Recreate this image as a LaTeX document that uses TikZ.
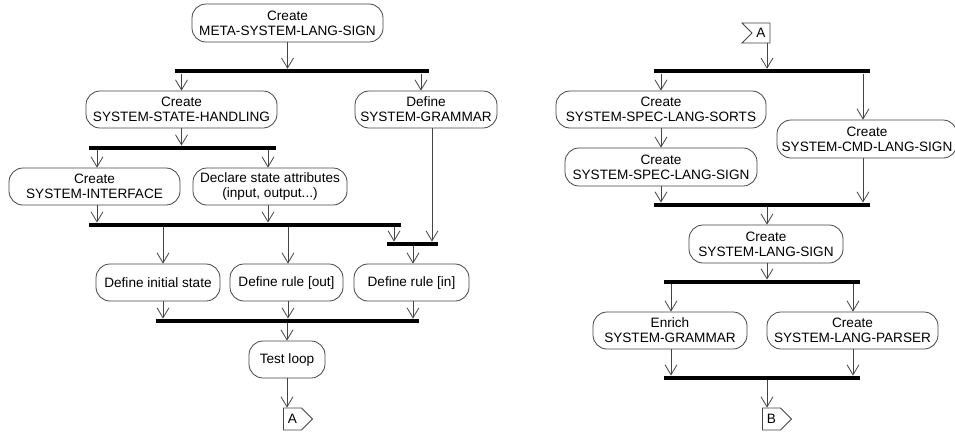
\documentclass[tikz,border=0pt]{standalone}
\usepackage{fontspec}
\setmainfont{Liberation Sans}
\usetikzlibrary{arrows.meta,shapes.symbols}
\definecolor{ln}{HTML}{444444}
\tikzset{
  act/.style={draw=ln, line width=0.8pt, rounded corners=14pt, align=center, inner sep=0pt,
    minimum height=37pt, font=\fontsize{13.6}{15}\selectfont},
  bar/.style={fill=black, inner sep=0pt, minimum height=4.5pt},
  arr/.style={draw=ln, line width=0.8pt, -{Straight Barb[length=10pt,width=12pt,line width=0.8pt]}},
  plain/.style={draw=ln, line width=0.8pt},
  sendsig/.style={signal, signal to=east, draw=ln, line width=0.8pt, inner sep=0pt,
    minimum width=29pt, minimum height=22pt, font=\fontsize{13.6}{15}\selectfont},
  recvsig/.style={signal, signal from=west, signal to=nowhere, draw=ln, line width=0.8pt, inner sep=0pt,
    minimum width=28pt, minimum height=20pt, font=\fontsize{13.6}{15}\selectfont}
}
\begin{document}
\begin{tikzpicture}[x=1pt,y=-1pt]
\useasboundingbox (0,0) rectangle (955,432);
% ---------- left diagram ----------
\node[act, minimum width=191pt, minimum height=38pt] (meta) at (287.5,23) {Create\\META-SYSTEM-LANG-SIGN};
\node[bar, minimum width=254pt] (bar1) at (302,71.2) {};
\node[act, minimum width=191pt] (ssh) at (181.5,109.5) {Create\\SYSTEM-STATE-HANDLING};
\node[act, minimum width=142pt] (dsg) at (426,109.5) {Define\\SYSTEM-GRAMMAR};
\node[bar, minimum width=187pt] (bar2) at (182.5,148) {};
\node[act, minimum width=171pt] (si) at (94.5,186.5) {Create\\SYSTEM-INTERFACE};
\node[act, minimum width=154pt] (dsa) at (270,186.5) {Declare state attributes\\(input, output...)};
\node[bar, minimum width=312pt] (bar3) at (245,225) {};
\node[bar, minimum width=51pt] (bar4) at (412.5,244) {};
\node[act, minimum width=124pt] (dis) at (158,282.5) {Define initial state};
\node[act, minimum width=113pt] (dro) at (286.5,282.5) {Define rule [out]};
\node[act, minimum width=115pt] (dri) at (411.5,282.5) {Define rule [in]};
\node[bar, minimum width=263pt] (bar5) at (287.5,321) {};
\node[act, minimum width=76pt] (tl) at (287,359.5) {Test loop};
\node[sendsig] (sendA) at (292.5,419) {A};

\coordinate (dsgi) at ([xshift=-5]dsg.north);
\coordinate (dsgo) at ([xshift=6]dsg.south);
\coordinate (sii) at ([xshift=2.5]si.north);
\coordinate (sio) at ([xshift=2.5]si.south);
\coordinate (dsai) at ([xshift=-2]dsa.north);
\coordinate (dsao) at ([xshift=-2]dsa.south);
\coordinate (b4l) at ([xshift=-18.5]bar4.north);
\coordinate (disi) at ([xshift=5]dis.north);
\coordinate (diso) at ([xshift=5]dis.south);
\coordinate (droi) at ([xshift=1.5]dro.north);
\coordinate (droo) at ([xshift=1.5]dro.south);
\coordinate (drii) at ([xshift=1.5]dri.north);
\coordinate (drio) at ([xshift=1.5]dri.south);

\draw[arr] (meta.south) -- (meta.south |- bar1.north);
\draw[arr] (ssh.north |- bar1.south) -- (ssh.north);
\draw[arr] (dsgi |- bar1.south) -- (dsgi);
\draw[arr] (ssh.south) -- (ssh.south |- bar2.north);
\draw[arr] (sii |- bar2.south) -- (sii);
\draw[arr] (dsai |- bar2.south) -- (dsai);
\draw[arr] (sio) -- (sio |- bar3.north);
\draw[arr] (dsao) -- (dsao |- bar3.north);
\draw[arr] (b4l |- bar3.south) -- (b4l);
\draw[arr] (dsgo) -- (dsgo |- bar4.north);
\draw[arr] (disi |- bar3.south) -- (disi);
\draw[arr] (droi |- bar3.south) -- (droi);
\draw[arr] (drii |- bar4.south) -- (drii);
\draw[arr] (diso) -- (diso |- bar5.north);
\draw[arr] (droo) -- (droo |- bar5.north);
\draw[arr] (drio) -- (drio |- bar5.north);
\draw[arr] (tl.north |- bar5.south) -- (tl.north);
\draw[arr] (tl.south) -- (tl.south |- sendA.north);

% ---------- right diagram ----------
\node[recvsig] (recvA) at (761,33) {A};
\node[bar, minimum width=216pt] (barR1) at (762,71.2) {};
\node[act, minimum width=210pt] (ssls) at (661,109.5) {Create\\SYSTEM-SPEC-LANG-SORTS};
\node[act, minimum width=180pt, minimum height=38pt] (cmd) at (867,139) {Create\\SYSTEM-CMD-LANG-SIGN};
\node[act, minimum width=192pt, minimum height=38pt] (sslsign) at (661,167) {Create\\SYSTEM-SPEC-LANG-SIGN};
\node[bar, minimum width=216pt] (barR2) at (762,205) {};
\node[act, minimum width=154pt, minimum height=38pt] (sls) at (766,244) {Create\\SYSTEM-LANG-SIGN};
\node[bar, minimum width=196pt] (barR3) at (762,282) {};
\node[act, minimum width=154pt] (esg) at (670,330.5) {Enrich\\SYSTEM-GRAMMAR};
\node[act, minimum width=171pt] (slp) at (852.5,330.5) {Create\\SYSTEM-LANG-PARSER};
\node[bar, minimum width=196pt] (barR4) at (762,378) {};
\node[sendsig] (sendB) at (771.5,419) {B};

\coordinate (rAo) at ([xshift=6]recvA.south);
\coordinate (cmdi) at ([xshift=-4]cmd.north);
\coordinate (cmdo) at ([xshift=-4]cmd.south);
\coordinate (slsi) at ([xshift=1]sls.north);
\coordinate (slso) at ([xshift=1]sls.south);
\coordinate (esgi) at ([xshift=1]esg.north);
\coordinate (esgo) at ([xshift=1]esg.south);
\coordinate (slpi) at ([xshift=0.5]slp.north);
\coordinate (slpo) at ([xshift=0.5]slp.south);
\coordinate (sBi) at ([xshift=-4.5]sendB.north);

\draw[arr] (rAo) -- (rAo |- barR1.north);
\draw[arr] (ssls.north |- barR1.south) -- (ssls.north);
\draw[arr] (cmdi |- barR1.south) -- (cmdi);
\draw[arr] (ssls.south) -- (sslsign.north);
\draw[arr] (sslsign.south) -- (sslsign.south |- barR2.north);
\draw[arr] (cmdo) -- (cmdo |- barR2.north);
\draw[arr] (slsi |- barR2.south) -- (slsi);
\draw[arr] (slso) -- (slso |- barR3.north);
\draw[arr] (esgi |- barR3.south) -- (esgi);
\draw[arr] (slpi |- barR3.south) -- (slpi);
\draw[arr] (esgo) -- (esgo |- barR4.north);
\draw[arr] (slpo) -- (slpo |- barR4.north);
\draw[arr] (sBi |- barR4.south) -- (sBi);
\end{tikzpicture}
\end{document}
